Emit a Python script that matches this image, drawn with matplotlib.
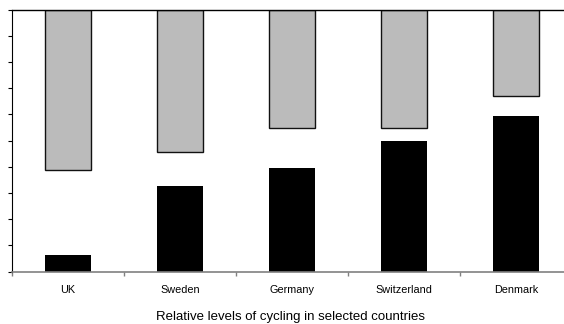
import matplotlib
matplotlib.use("Agg")
import matplotlib.pyplot as plt
import numpy as np

plt.rcParams['font.family'] = ['Liberation Sans', 'DejaVu Sans']

countries = ["UK", "Sweden", "Germany", "Switzerland", "Denmark"]
cycling = [6.3, 32.6, 39.6, 49.8, 59.2]        # black bars, from the bottom
gray_start = [38.6, 45.5, 54.9, 54.9, 66.8]    # grey bars hang from the top (100)

fig = plt.figure(figsize=(5.64, 3.24), dpi=100)
ax = fig.add_axes([12 / 564, 52.5 / 324, 560 / 564, 262 / 324])

x = np.arange(len(countries))
top = 100
ax.bar(x, [top - g for g in gray_start], bottom=gray_start, width=0.41,
       color="#bbbbbb", edgecolor="#111111", linewidth=1.0, zorder=2)
ax.bar(x, cycling, width=0.41, color="black", linewidth=0, zorder=2)

ax.set_xlim(-0.5, len(countries) - 0.5)
ax.set_ylim(0, top)

ax.set_xticks(x)
ax.set_xticklabels(countries, fontsize=7.8)
ax.tick_params(axis="x", which="major", length=0, pad=10)
ax.set_xticks(np.arange(-0.5, len(countries), 1.0), minor=True)
ax.tick_params(axis="x", which="minor", length=3, color="#808080", width=1)

ax.set_yticks(np.arange(0, 101, 10))
ax.set_yticklabels([])
ax.tick_params(axis="y", length=3, width=0.8, color="black")

ax.spines["right"].set_visible(False)
ax.spines["bottom"].set_color("#808080")
ax.spines["bottom"].set_linewidth(1.2)
ax.spines["left"].set_linewidth(0.8)
ax.spines["top"].set_linewidth(1.0)

fig.text(291 / 564, (324 - 317) / 324, "Relative levels of cycling in selected countries",
         ha="center", va="center", fontsize=9.5)

fig.savefig("out.png", dpi=100)
